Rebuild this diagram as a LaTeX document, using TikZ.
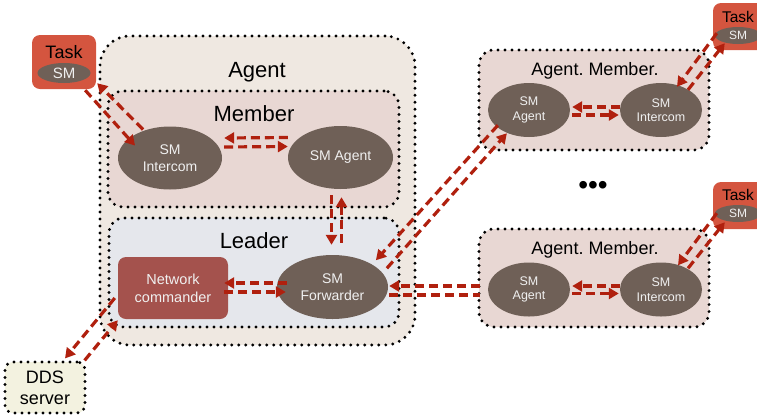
\documentclass[tikz,border=0pt]{standalone}
\usepackage{fontspec}
\setmainfont{Liberation Sans}
\frenchspacing
\usetikzlibrary{arrows.meta,shapes.geometric}
\definecolor{agentbg}{HTML}{EFE8E1}
\definecolor{memberbg}{HTML}{E8D7D3}
\definecolor{leaderbg}{HTML}{E5E7EC}
\definecolor{ddsbg}{HTML}{F3F2E0}
\definecolor{smbrown}{HTML}{6F6057}
\definecolor{taskred}{HTML}{D4553F}
\definecolor{netred}{HTML}{A4524D}
\definecolor{linkred}{HTML}{B0200E}
\tikzset{
  dotbox/.style={draw=black,line width=3.2pt,dash pattern=on 0pt off 7pt,line cap=round,rounded corners=#1,inner sep=0pt},
  dotbox/.default=15pt,
  smnode/.style={ellipse,fill=smbrown,text=white!94!black,inner sep=0pt,align=center,font=\fontsize{14}{17}\selectfont,minimum width=104pt,minimum height=63pt},
  smsmall/.style={smnode,font=\fontsize{12.5}{14.5}\selectfont,minimum width=82pt,minimum height=54pt},
  tasksm/.style={smnode,font=\fontsize{15}{17}\selectfont,minimum width=53pt,minimum height=20pt},
  taskbox/.style={rectangle,fill=taskred,rounded corners=8pt,inner sep=0pt,minimum width=64pt},
  boxlbl/.style={anchor=base,inner sep=0pt,font=\fontsize{22}{26}\selectfont},
  smlink/.style={draw=linkred,line width=3.2pt,dash pattern=on 9pt off 5pt,-{Triangle[length=10pt,width=11pt]}}
}
\begin{document}
\begin{tikzpicture}[x=1pt,y=-1pt]
\useasboundingbox (0,0) rectangle (757,416);
\clip (0,0) rectangle (757,416);
\node[dotbox=30pt,fill=agentbg,minimum width=315pt,minimum height=309pt](agent) at (257.5,190.5){};
\node[boxlbl](agentlbl) at (257,77){Agent};
\node[dotbox,fill=memberbg,minimum width=291pt,minimum height=116pt](member) at (253.5,149){};
\node[boxlbl](memberlbl) at (254,121){Member};
\node[dotbox,fill=leaderbg,minimum width=290pt,minimum height=109pt](leader) at (254,272.5){};
\node[boxlbl](leaderlbl) at (254,248){Leader};
\node[dotbox,fill=memberbg,minimum width=230pt,minimum height=100pt](amtop) at (594,100){};
\node[boxlbl,font=\fontsize{18}{21}\selectfont](amtoplbl) at (595,75){Agent. Member.};
\node[dotbox,fill=memberbg,minimum width=230pt,minimum height=98pt](ambot) at (594,278){};
\node[boxlbl,font=\fontsize{18}{21}\selectfont](ambotlbl) at (595,254){Agent. Member.};
\node[dotbox=8pt,fill=ddsbg,minimum width=80pt,minimum height=51pt,align=center,font=\fontsize{18}{21}\selectfont](dds) at (45,387.5){DDS\\server};

\node[smnode](icom) at (170,158){SM\\Intercom};
\node[smnode,minimum width=105pt](magent) at (340.5,157.5){SM Agent};
\node[smnode,minimum width=111pt,minimum height=64pt](fwd) at (332.5,287){SM\\Forwarder};
\node[rectangle,rounded corners=8pt,fill=netred,text=white!94!black,align=center,font=\fontsize{14.5}{18}\selectfont,minimum width=110pt,minimum height=62pt,inner sep=0pt](netcmd) at (173,288){Network\\commander};
\node[smsmall](ra) at (529,110){SM\\Agent};
\node[smsmall](rai) at (661,110){SM\\Intercom};
\node[smsmall](rb) at (529,289.5){SM\\Agent};
\node[smsmall](rbi) at (661,289.5){SM\\Intercom};

\node[taskbox,minimum height=54pt](taskL) at (64,62){};
\node[boxlbl,font=\fontsize{18}{21}\selectfont](taskLlbl) at (64,58){Task};
\node[tasksm](taskLsm) at (64,73){SM};
\node[taskbox,minimum height=47pt](taskTR) at (745,26.5){};
\node[boxlbl,font=\fontsize{15.5}{18}\selectfont](taskTRlbl) at (738,22){Task};
\node[tasksm,font=\fontsize{12}{14}\selectfont,minimum width=46pt,minimum height=17pt](taskTRsm) at (738,35.5){SM};
\node[taskbox,minimum height=47pt](taskBR) at (745,205.5){};
\node[boxlbl,font=\fontsize{15.5}{18}\selectfont](taskBRlbl) at (738,200){Task};
\node[tasksm,font=\fontsize{12}{14}\selectfont,minimum width=46pt,minimum height=17pt](taskBRsm) at (738,213.5){SM};

\node[font=\fontsize{28}{30}\selectfont](more) at (593,188){•••};

\draw[smlink] ([shift={(-11,1)}]taskL.south east) -- ([shift={(2,10)}]icom.north west);
\draw[smlink] ([shift={(10,-6)}]icom.north west) -- ([shift={(1,-6)}]taskL.south east);
\draw[smlink] ([shift={(0,-20)}]magent.west) -- ([shift={(2,-20)}]icom.east);
\draw[smlink] ([shift={(2,-11)}]icom.east) -- ([shift={(0,-11)}]magent.west);
\draw[smlink] ([shift={(-9,6)}]magent.south) -- ([shift={(-1,-10)}]fwd.north);
\draw[smlink] ([shift={(9,-12)}]fwd.north) -- ([shift={(1,8)}]magent.south);
\draw[smlink] ([shift={(-2,-4)}]ra.south west) -- ([shift={(4,-4)}]fwd.north east);
\draw[smlink] ([shift={(15,4)}]fwd.north east) -- ([shift={(7,4)}]ra.south west);
\draw[smlink] ([shift={(-8,-3.5)}]rb.west) -- ([shift={(1,-1)}]fwd.east);
\draw[smlink,-] ([shift={(1,8)}]fwd.east) -- ([shift={(-8,5.5)}]rb.west);
\draw[smlink] ([shift={(0,-3)}]rai.west) -- ([shift={(2,-3)}]ra.east);
\draw[smlink] ([shift={(2,5)}]ra.east) -- ([shift={(-1,5)}]rai.west);
\draw[smlink] ([shift={(0,-3.5)}]rbi.west) -- ([shift={(2,-3.5)}]rb.east);
\draw[smlink] ([shift={(2,4)}]rb.east) -- ([shift={(-1,4)}]rbi.west);
\draw[smlink] ([shift={(4,-17)}]taskTR.south west) -- ([shift={(16,4)}]rai.north);
\draw[smlink] ([shift={(27,7)}]rai.north) -- ([shift={(12,-7)}]taskTR.south west);
\draw[smlink] ([shift={(4,-16)}]taskBR.south west) -- ([shift={(17,3)}]rbi.north);
\draw[smlink] ([shift={(27,6)}]rbi.north) -- ([shift={(12,-7)}]taskBR.south west);
\draw[smlink] ([shift={(10,-4)}]fwd.west) -- ([shift={(-4,-5)}]netcmd.east);
\draw[smlink] ([shift={(-4,4)}]netcmd.east) -- ([shift={(9,5)}]fwd.west);
\draw[smlink] ([shift={(-3,10)}]netcmd.west) -- ([shift={(20,-2)}]dds.north);
\draw[smlink] ([shift={(-2,0)}]dds.north east) -- ([shift={(0,1)}]netcmd.south west);
\end{tikzpicture}
\end{document}
